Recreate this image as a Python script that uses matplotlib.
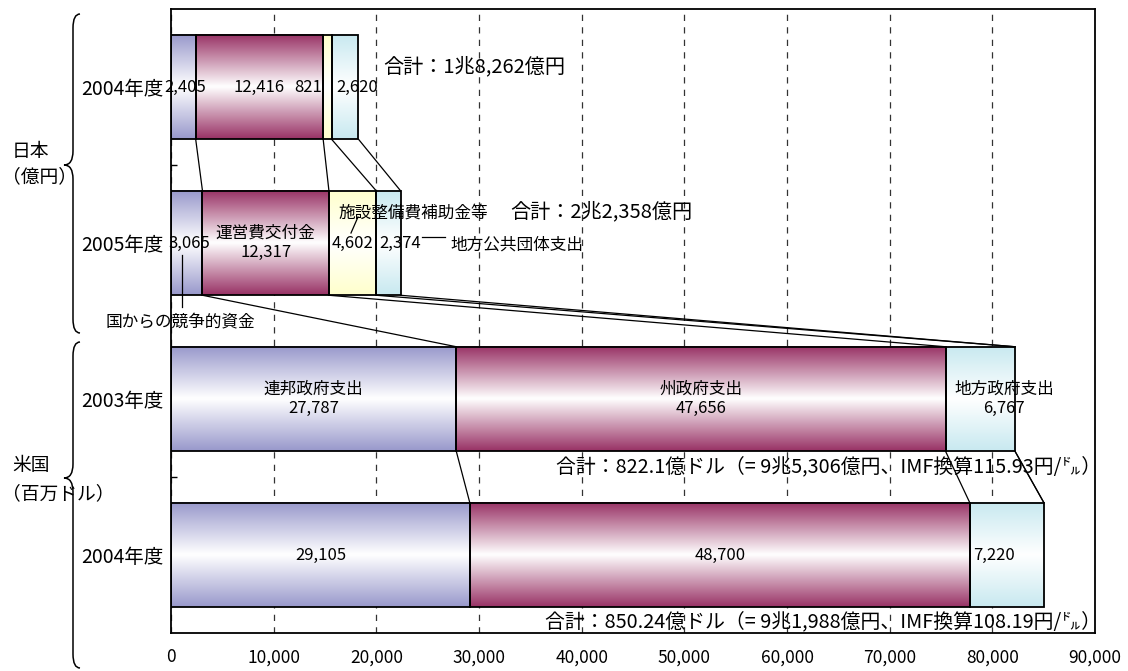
import matplotlib.pyplot as plt
import numpy as np
from matplotlib.path import Path
from matplotlib.patches import PathPatch

plt.rcParams["font.family"] = ["Noto Sans CJK JP", "DejaVu Sans"]

# ── データ ──
years = ["2004年度", "2005年度", "2003年度", "2004年度"]

# 日本（億円）
jp_competitive = [2405, 3065]
jp_operating = [12416, 12317]
jp_facility = [821, 4602]
jp_local = [2620, 2374]

# 米国（百万ドル）
us_federal = [27787, 29105]
us_state = [47656, 48700]
us_local = [6767, 7220]

jp_totals = ["合計：1兆8,262億円", "合計：2兆2,358億円"]
us_totals = [
    "合計：822.1億ドル（= 9兆5,306億円、IMF換算115.93円/㌦）",
    "合計：850.24億ドル（= 9兆1,988億円、IMF換算108.19円/㌦）",
]
xticks = list(range(0, 90001, 10000))

# 行ごとの系列（米国は施設整備費なし）
series = [
    jp_competitive + us_federal,
    jp_operating + us_state,
    jp_facility + [0, 0],
    jp_local + us_local,
]
seg_names = [
    [None, None, "連邦政府支出", None],
    [None, "運営費交付金", "州政府支出", None],
    [None, None, None, None],
    [None, None, "地方政府支出", None],
]
edge_colors = ["#9999CC", "#993366", "#FFFFCC", "#C8E9F0"]

W, H = 1128, 671
BAR_H = 0.67


def fx(px):
    return px / W


def fy(py):
    return 1 - py / H


def gradient(color, n=96):
    rgb = np.array(plt.matplotlib.colors.to_rgb(color))
    t = np.linspace(0, 1, n)
    f = np.abs(2 * t - 1)[:, None]
    return (1 - f) * np.ones(3) + f * rgb


fig = plt.figure(figsize=(11.28, 6.71), dpi=100)
ax = fig.add_axes([fx(171), fy(633), (1095 - 171) / W, (633 - 9) / H])

rows = np.arange(len(years))
vals = np.array(series, dtype=float)
lefts = np.vstack([np.zeros(len(years)), np.cumsum(vals, axis=0)[:-1]])

for k in range(len(series)):
    bars = ax.barh(rows, vals[k], left=lefts[k], height=BAR_H,
                   facecolor="none", edgecolor="black", linewidth=1.3, zorder=3)
    grad = gradient(edge_colors[k])[:, None, :]
    for p in bars.patches:
        if p.get_width() <= 0:
            continue
        x0, y0 = p.get_x(), p.get_y()
        ax.imshow(grad, extent=[x0, x0 + p.get_width(), y0 + p.get_height(), y0],
                  aspect="auto", interpolation="bilinear", zorder=2)

# データラベル（位置の微調整はピクセル単位）
label_tweak = {
    (0, 0): ("center", 2), (0, 2): ("right", -1), (0, 3): ("left", 5),
    (1, 0): ("center", 3), (1, 3): ("left", 3),
    (2, 3): ("center", 24), (3, 3): ("left", 3),
}
for k in range(len(series)):
    for r in rows:
        v = vals[k, r]
        if v <= 0:
            continue
        ha, dx = label_tweak.get((r, k), ("center", 0))
        if ha == "center":
            x = lefts[k, r] + v / 2
        else:
            x = lefts[k, r]
        text = f"{int(v):,}"
        if seg_names[k][r]:
            text = seg_names[k][r] + "\n" + text
        ax.annotate(text, (x, r), xytext=(dx * 0.72, 0), textcoords="offset points",
                    ha=ha, va="center", fontsize=12, linespacing=1.2, zorder=5)

# 系列線
totals = vals.sum(axis=0)
ends = np.cumsum(vals, axis=0)
ends = np.where(vals > 0, ends, totals)
for r in rows[:-1]:
    for k in range(len(series)):
        ax.plot([ends[k, r], ends[k, r + 1]],
                [r + BAR_H / 2, r + 1 - BAR_H / 2],
                color="black", linewidth=0.9, zorder=4)

# 合計（日本）
ax.annotate(jp_totals[0], (totals[0], 0), xytext=(18, 14.5), textcoords="offset points",
            ha="left", va="center", fontsize=14.5)
ax.annotate(jp_totals[1], (totals[1], 1), xytext=(79, 22.3), textcoords="offset points",
            ha="left", va="center", fontsize=14.5)
# 合計（米国）
fig.text(fx(1101), fy(467), us_totals[0], ha="right", va="center", fontsize=14.3)
fig.text(fx(1101), fy(622), us_totals[1], ha="right", va="center", fontsize=14.3)

# 補足ラベルと引出線
fig.text(fx(338), fy(213), "施設整備費補助金等", ha="left", va="center", fontsize=12)
fig.add_artist(plt.Line2D([fx(351), fx(358)], [fy(233), fy(217)], color="black", lw=0.9))
fig.text(fx(450), fy(245), "地方公共団体支出", ha="left", va="center", fontsize=12)
fig.add_artist(plt.Line2D([fx(422), fx(445)], [fy(237), fy(237)], color="black", lw=0.9))
fig.text(fx(106), fy(322), "国からの競争的資金", ha="left", va="center", fontsize=12)
fig.add_artist(plt.Line2D([fx(182), fx(182)], [fy(255), fy(307)], color="black", lw=0.9))

# 軸
ax.set_xlim(0, 90000)
ax.set_ylim(3.5, -0.5)
ax.set_xticks(xticks)
ax.set_xticklabels([f"{v:,}" for v in xticks], fontsize=12.5)
ax.tick_params(axis="x", length=0, pad=11)
ax.set_yticks(rows)
ax.set_yticklabels(years, fontsize=14, ha="left")
ax.tick_params(axis="y", which="major", length=0, pad=65)
ax.set_yticks([0.5, 2.5], minor=True)
ax.tick_params(axis="y", which="minor", direction="in", length=4.5, width=1, color="black")
ax.grid(axis="x", color="#333333", linestyle=(0, (5, 5)), linewidth=0.9)
ax.set_axisbelow(True)
for s in ax.spines.values():
    s.set_color("black")
    s.set_linewidth(1.3)

# 左側の括弧とグループ名
def brace(y_top, y_tip, y_bot, x_end=80, x_mid=73, x_tip=64, r=14):
    pts = [(x_end, y_top), (x_mid, y_top), (x_mid, y_top + r),
           (x_mid, y_tip - r), (x_mid, y_tip), (x_tip, y_tip),
           (x_mid, y_tip), (x_mid, y_tip + r),
           (x_mid, y_bot - r), (x_mid, y_bot), (x_end, y_bot)]
    codes = [Path.MOVETO, Path.CURVE3, Path.CURVE3, Path.LINETO,
             Path.CURVE3, Path.CURVE3, Path.CURVE3, Path.CURVE3,
             Path.LINETO, Path.CURVE3, Path.CURVE3]
    path = Path([(fx(x), fy(y)) for x, y in pts], codes)
    fig.add_artist(PathPatch(path, facecolor="none", edgecolor="black",
                             linewidth=1.1, transform=fig.transFigure))


brace(14, 165, 333)
brace(342, 478, 668)
fig.text(fx(12), fy(152), "日本", ha="left", va="center", fontsize=13.5)
fig.text(fx(2), fy(177), "（億円）", ha="left", va="center", fontsize=13.5)
fig.text(fx(12), fy(466), "米国", ha="left", va="center", fontsize=13.5)
fig.text(fx(2), fy(494), "（百万ドル）", ha="left", va="center", fontsize=13.5)

fig.savefig("out.png", dpi=100)
